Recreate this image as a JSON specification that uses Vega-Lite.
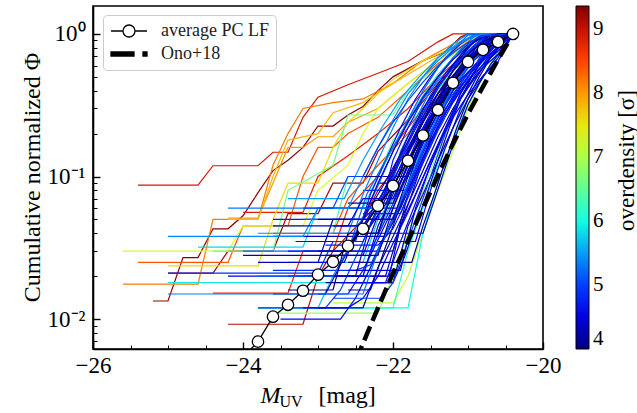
{
"$schema":"https://vega.github.io/schema/vega-lite/v6.json",
"width":450,"height":343,
"autosize":{"type":"none"},
"padding":{"left":93,"top":6,"right":94,"bottom":64},
"config":{"view":{"stroke":"black","strokeWidth":1.6},
 "axis":{"grid":false,"domainColor":"black","tickColor":"black","labelColor":"black","titleColor":"black","labelFont":"Liberation Serif","titleFont":"Liberation Serif","titleFontWeight":"normal","labelFlush":false,"labelOverlap":false},
 "legend":{"labelFont":"Liberation Serif","titleFont":"Liberation Serif","titleFontWeight":"normal","labelColor":"black","titleColor":"black"}},
"datasets":{
"od":[{"i":1,"d":8.9},{"i":2,"d":9.3},{"i":3,"d":9.2},{"i":4,"d":8.4},{"i":5,"d":8.2},{"i":6,"d":8.0},{"i":7,"d":8.7},{"i":8,"d":9.1},{"i":9,"d":8.5},{"i":10,"d":8.8},{"i":11,"d":7.3},{"i":12,"d":7.6},{"i":13,"d":7.1},{"i":14,"d":7.8},{"i":15,"d":6.6},{"i":16,"d":6.2},{"i":17,"d":5.8},{"i":18,"d":6.9},{"i":19,"d":6.0},{"i":20,"d":6.4},{"i":21,"d":5.7},{"i":22,"d":5.7},{"i":23,"d":5.9},
{"i":24,"d":4.2},{"i":25,"d":4.5},{"i":26,"d":4.1},{"i":27,"d":4.8},{"i":28,"d":4.3},{"i":29,"d":4.6},{"i":30,"d":4.0},{"i":31,"d":5.0},{"i":32,"d":4.4},{"i":33,"d":4.7},{"i":34,"d":4.2},{"i":35,"d":5.2},{"i":36,"d":4.9},{"i":37,"d":4.3},{"i":38,"d":4.6},{"i":39,"d":5.4},{"i":40,"d":4.1},{"i":41,"d":4.5},{"i":42,"d":4.8},{"i":43,"d":4.0},{"i":44,"d":5.1},{"i":45,"d":4.4},{"i":46,"d":4.2},{"i":47,"d":4.7},{"i":48,"d":5.3},{"i":49,"d":4.3},{"i":50,"d":4.9},{"i":51,"d":4.1},{"i":52,"d":4.6},{"i":53,"d":5.5},{"i":54,"d":4.0},{"i":55,"d":4.4},{"i":56,"d":4.8},{"i":57,"d":4.2},{"i":58,"d":5.0},{"i":59,"d":4.5},{"i":60,"d":4.3},{"i":61,"d":4.1},{"i":62,"d":4.7},{"i":63,"d":5.2},{"i":64,"d":5.3},{"i":65,"d":5.4},{"i":66,"d":4.9},{"i":67,"d":4.2},{"i":68,"d":4.5},{"i":69,"d":4.0},{"i":70,"d":4.8},{"i":71,"d":4.3},{"i":72,"d":4.6},{"i":73,"d":5.0},{"i":74,"d":4.1},{"i":75,"d":4.4},{"i":76,"d":4.7}],
"pc":[
{"i":1,"m":-25.4,"p":0.087},{"i":1,"m":-24.6,"p":0.087},{"i":1,"m":-24.4,"p":0.119},{"i":1,"m":-23.8,"p":0.119},{"i":1,"m":-23.6,"p":0.148},{"i":1,"m":-23.4,"p":0.148},{"i":1,"m":-23.2,"p":0.26},{"i":1,"m":-23.0,"p":0.36},{"i":1,"m":-22.6,"p":0.44},{"i":1,"m":-22.2,"p":0.53},{"i":1,"m":-21.8,"p":0.64},{"i":1,"m":-21.4,"p":0.88},{"i":1,"m":-21.2,"p":1},{"i":1,"m":-20.4,"p":1},
{"i":2,"m":-25.2,"p":0.0134},{"i":2,"m":-25.0,"p":0.0134},{"i":2,"m":-24.8,"p":0.027},{"i":2,"m":-24.6,"p":0.027},{"i":2,"m":-24.4,"p":0.043},{"i":2,"m":-24.2,"p":0.043},{"i":2,"m":-24.0,"p":0.053},{"i":2,"m":-23.8,"p":0.077},{"i":2,"m":-23.6,"p":0.11},{"i":2,"m":-23.4,"p":0.13},{"i":2,"m":-23.2,"p":0.16},{"i":2,"m":-23.0,"p":0.226},{"i":2,"m":-22.8,"p":0.226},{"i":2,"m":-22.6,"p":0.27},{"i":2,"m":-22.4,"p":0.31},{"i":2,"m":-22.2,"p":0.4},{"i":2,"m":-22.0,"p":0.5},{"i":2,"m":-21.6,"p":0.65},{"i":2,"m":-21.3,"p":0.75},{"i":2,"m":-21.1,"p":0.95},{"i":2,"m":-21.0,"p":1},{"i":2,"m":-20.4,"p":1},
{"i":3,"m":-25.0,"p":0.021},{"i":3,"m":-24.4,"p":0.021},{"i":3,"m":-24.2,"p":0.03},{"i":3,"m":-23.6,"p":0.03},{"i":3,"m":-23.4,"p":0.055},{"i":3,"m":-23.0,"p":0.055},{"i":3,"m":-22.8,"p":0.09},{"i":3,"m":-22.4,"p":0.09},{"i":3,"m":-22.2,"p":0.15},{"i":3,"m":-21.8,"p":0.25},{"i":3,"m":-21.4,"p":0.45},{"i":3,"m":-21.0,"p":0.75},{"i":3,"m":-20.6,"p":1},{"i":3,"m":-20.4,"p":1},
{"i":4,"m":-25.4,"p":0.025},{"i":4,"m":-24.2,"p":0.025},{"i":4,"m":-24.0,"p":0.045},{"i":4,"m":-23.4,"p":0.045},{"i":4,"m":-23.2,"p":0.1},{"i":4,"m":-23.0,"p":0.16},{"i":4,"m":-22.8,"p":0.16},{"i":4,"m":-22.6,"p":0.2},{"i":4,"m":-22.2,"p":0.26},{"i":4,"m":-21.8,"p":0.4},{"i":4,"m":-21.4,"p":0.62},{"i":4,"m":-21.0,"p":0.85},{"i":4,"m":-20.6,"p":1},{"i":4,"m":-20.4,"p":1},
{"i":5,"m":-25.6,"p":0.0176},{"i":5,"m":-24.6,"p":0.0176},{"i":5,"m":-24.4,"p":0.05},{"i":5,"m":-23.8,"p":0.05},{"i":5,"m":-23.6,"p":0.12},{"i":5,"m":-23.4,"p":0.2},{"i":5,"m":-23.2,"p":0.3},{"i":5,"m":-22.8,"p":0.33},{"i":5,"m":-22.4,"p":0.35},{"i":5,"m":-22.0,"p":0.45},{"i":5,"m":-21.6,"p":0.65},{"i":5,"m":-21.2,"p":0.85},{"i":5,"m":-20.8,"p":1},{"i":5,"m":-20.4,"p":1},
{"i":6,"m":-24.2,"p":0.051},{"i":6,"m":-23.8,"p":0.051},{"i":6,"m":-23.6,"p":0.09},{"i":6,"m":-23.4,"p":0.16},{"i":6,"m":-23.2,"p":0.16},{"i":6,"m":-23.0,"p":0.19},{"i":6,"m":-22.8,"p":0.19},{"i":6,"m":-22.6,"p":0.24},{"i":6,"m":-22.2,"p":0.3},{"i":6,"m":-21.8,"p":0.45},{"i":6,"m":-21.4,"p":0.65},{"i":6,"m":-21.0,"p":0.88},{"i":6,"m":-20.6,"p":1},{"i":6,"m":-20.4,"p":1},
{"i":7,"m":-24.4,"p":0.0152},{"i":7,"m":-23.4,"p":0.0152},{"i":7,"m":-23.2,"p":0.03},{"i":7,"m":-22.8,"p":0.03},{"i":7,"m":-22.6,"p":0.06},{"i":7,"m":-22.2,"p":0.1},{"i":7,"m":-22.0,"p":0.16},{"i":7,"m":-21.6,"p":0.3},{"i":7,"m":-21.2,"p":0.55},{"i":7,"m":-20.8,"p":0.85},{"i":7,"m":-20.6,"p":1},{"i":7,"m":-20.4,"p":1},
{"i":8,"m":-24.2,"p":0.0092},{"i":8,"m":-23.2,"p":0.0092},{"i":8,"m":-23.0,"p":0.02},{"i":8,"m":-22.8,"p":0.03},{"i":8,"m":-22.4,"p":0.05},{"i":8,"m":-22.2,"p":0.08},{"i":8,"m":-21.8,"p":0.15},{"i":8,"m":-21.4,"p":0.3},{"i":8,"m":-21.0,"p":0.6},{"i":8,"m":-20.6,"p":0.9},{"i":8,"m":-20.4,"p":1},
{"i":9,"m":-23.6,"p":0.04},{"i":9,"m":-22.8,"p":0.04},{"i":9,"m":-22.6,"p":0.07},{"i":9,"m":-22.2,"p":0.12},{"i":9,"m":-21.8,"p":0.2},{"i":9,"m":-21.4,"p":0.38},{"i":9,"m":-21.0,"p":0.65},{"i":9,"m":-20.6,"p":0.92},{"i":9,"m":-20.4,"p":1},
{"i":10,"m":-24.0,"p":0.056},{"i":10,"m":-23.2,"p":0.056},{"i":10,"m":-23.0,"p":0.1},{"i":10,"m":-22.6,"p":0.14},{"i":10,"m":-22.2,"p":0.2},{"i":10,"m":-21.8,"p":0.3},{"i":10,"m":-21.4,"p":0.5},{"i":10,"m":-21.0,"p":0.75},{"i":10,"m":-20.6,"p":0.95},{"i":10,"m":-20.4,"p":1},
{"i":11,"m":-25.6,"p":0.03},{"i":11,"m":-24.2,"p":0.03},{"i":11,"m":-24.0,"p":0.045},{"i":11,"m":-23.2,"p":0.045},{"i":11,"m":-23.0,"p":0.08},{"i":11,"m":-22.6,"p":0.12},{"i":11,"m":-22.4,"p":0.2},{"i":11,"m":-22.2,"p":0.3},{"i":11,"m":-21.8,"p":0.45},{"i":11,"m":-21.4,"p":0.65},{"i":11,"m":-21.0,"p":0.85},{"i":11,"m":-20.6,"p":1},{"i":11,"m":-20.4,"p":1},
{"i":12,"m":-25.0,"p":0.0236},{"i":12,"m":-23.8,"p":0.0236},{"i":12,"m":-23.6,"p":0.05},{"i":12,"m":-23.4,"p":0.09},{"i":12,"m":-23.0,"p":0.09},{"i":12,"m":-22.8,"p":0.16},{"i":12,"m":-22.6,"p":0.24},{"i":12,"m":-22.4,"p":0.3},{"i":12,"m":-22.0,"p":0.48},{"i":12,"m":-21.6,"p":0.65},{"i":12,"m":-21.4,"p":0.72},{"i":12,"m":-21.0,"p":0.9},{"i":12,"m":-20.8,"p":1},{"i":12,"m":-20.4,"p":1},
{"i":13,"m":-22.8,"p":0.013},{"i":13,"m":-22.0,"p":0.013},{"i":13,"m":-21.8,"p":0.02},{"i":13,"m":-21.6,"p":0.04},{"i":13,"m":-21.4,"p":0.08},{"i":13,"m":-21.2,"p":0.15},{"i":13,"m":-21.0,"p":0.3},{"i":13,"m":-20.8,"p":0.5},{"i":13,"m":-20.6,"p":0.75},{"i":13,"m":-20.4,"p":1},
{"i":14,"m":-24.2,"p":0.05},{"i":14,"m":-23.8,"p":0.05},{"i":14,"m":-23.6,"p":0.1},{"i":14,"m":-23.4,"p":0.18},{"i":14,"m":-23.0,"p":0.2},{"i":14,"m":-22.8,"p":0.28},{"i":14,"m":-22.4,"p":0.33},{"i":14,"m":-22.0,"p":0.45},{"i":14,"m":-21.6,"p":0.6},{"i":14,"m":-21.2,"p":0.8},{"i":14,"m":-20.8,"p":1},{"i":14,"m":-20.4,"p":1},
{"i":15,"m":-24.4,"p":0.03},{"i":15,"m":-23.6,"p":0.03},{"i":15,"m":-23.4,"p":0.08},{"i":15,"m":-22.8,"p":0.12},{"i":15,"m":-22.6,"p":0.27},{"i":15,"m":-22.0,"p":0.27},{"i":15,"m":-21.8,"p":0.4},{"i":15,"m":-21.4,"p":0.6},{"i":15,"m":-21.0,"p":0.85},{"i":15,"m":-20.8,"p":1},{"i":15,"m":-20.4,"p":1},
{"i":16,"m":-23.8,"p":0.012},{"i":16,"m":-22.0,"p":0.012},{"i":16,"m":-21.8,"p":0.03},{"i":16,"m":-21.6,"p":0.06},{"i":16,"m":-21.4,"p":0.12},{"i":16,"m":-21.2,"p":0.22},{"i":16,"m":-21.0,"p":0.38},{"i":16,"m":-20.8,"p":0.6},{"i":16,"m":-20.6,"p":0.82},{"i":16,"m":-20.4,"p":1},
{"i":17,"m":-24.6,"p":0.032},{"i":17,"m":-23.2,"p":0.032},{"i":17,"m":-23.0,"p":0.06},{"i":17,"m":-22.4,"p":0.06},{"i":17,"m":-22.2,"p":0.1},{"i":17,"m":-22.0,"p":0.16},{"i":17,"m":-21.8,"p":0.25},{"i":17,"m":-21.6,"p":0.37},{"i":17,"m":-21.4,"p":0.52},{"i":17,"m":-21.2,"p":0.68},{"i":17,"m":-21.0,"p":0.84},{"i":17,"m":-20.8,"p":1},{"i":17,"m":-20.4,"p":1},
{"i":18,"m":-23.6,"p":0.011},{"i":18,"m":-22.2,"p":0.011},{"i":18,"m":-22.0,"p":0.02},{"i":18,"m":-21.8,"p":0.04},{"i":18,"m":-21.6,"p":0.08},{"i":18,"m":-21.4,"p":0.15},{"i":18,"m":-21.2,"p":0.27},{"i":18,"m":-21.0,"p":0.43},{"i":18,"m":-20.8,"p":0.62},{"i":18,"m":-20.6,"p":0.82},{"i":18,"m":-20.4,"p":1},
{"i":19,"m":-22.8,"p":0.012},{"i":19,"m":-21.8,"p":0.012},{"i":19,"m":-21.6,"p":0.04},{"i":19,"m":-21.4,"p":0.09},{"i":19,"m":-21.2,"p":0.18},{"i":19,"m":-21.0,"p":0.32},{"i":19,"m":-20.8,"p":0.5},{"i":19,"m":-20.6,"p":0.75},{"i":19,"m":-20.4,"p":1},
{"i":20,"m":-23.2,"p":0.04},{"i":20,"m":-22.8,"p":0.04},{"i":20,"m":-22.6,"p":0.1},{"i":20,"m":-22.2,"p":0.1},{"i":20,"m":-22.0,"p":0.18},{"i":20,"m":-21.6,"p":0.3},{"i":20,"m":-21.2,"p":0.55},{"i":20,"m":-20.8,"p":0.85},{"i":20,"m":-20.6,"p":1},{"i":20,"m":-20.4,"p":1},
{"i":21,"m":-23.4,"p":0.025},{"i":21,"m":-22.4,"p":0.025},{"i":21,"m":-22.2,"p":0.05},{"i":21,"m":-21.8,"p":0.1},{"i":21,"m":-21.6,"p":0.16},{"i":21,"m":-21.4,"p":0.26},{"i":21,"m":-21.2,"p":0.4},{"i":21,"m":-21.0,"p":0.58},{"i":21,"m":-20.8,"p":0.78},{"i":21,"m":-20.6,"p":0.93},{"i":21,"m":-20.4,"p":1},
{"i":22,"m":-23.8,"p":0.012},{"i":22,"m":-23.0,"p":0.012},{"i":22,"m":-22.8,"p":0.02},{"i":22,"m":-22.4,"p":0.02},{"i":22,"m":-22.2,"p":0.04},{"i":22,"m":-22.0,"p":0.07},{"i":22,"m":-21.8,"p":0.12},{"i":22,"m":-21.6,"p":0.2},{"i":22,"m":-21.4,"p":0.32},{"i":22,"m":-21.2,"p":0.47},{"i":22,"m":-21.0,"p":0.65},{"i":22,"m":-20.8,"p":0.82},{"i":22,"m":-20.6,"p":0.95},{"i":22,"m":-20.4,"p":1},
{"i":23,"m":-25.0,"p":0.018},{"i":23,"m":-22.4,"p":0.018},{"i":23,"m":-22.2,"p":0.03},{"i":23,"m":-22.0,"p":0.05},{"i":23,"m":-21.8,"p":0.08},{"i":23,"m":-21.6,"p":0.13},{"i":23,"m":-21.4,"p":0.22},{"i":23,"m":-21.2,"p":0.35},{"i":23,"m":-21.0,"p":0.5},{"i":23,"m":-20.8,"p":0.7},{"i":23,"m":-20.6,"p":0.88},{"i":23,"m":-20.4,"p":1},
{"i":24,"m":-23.2,"p":0.03},{"i":24,"m":-22.0,"p":0.03},{"i":24,"m":-21.8,"p":0.075},{"i":24,"m":-21.6,"p":0.13},{"i":24,"m":-21.4,"p":0.22},{"i":24,"m":-21.2,"p":0.35},{"i":24,"m":-21.0,"p":0.5},{"i":24,"m":-20.8,"p":0.68},{"i":24,"m":-20.6,"p":0.85},{"i":24,"m":-20.4,"p":1},
{"i":25,"m":-23.4,"p":0.02},{"i":25,"m":-22.4,"p":0.02},{"i":25,"m":-22.2,"p":0.045},{"i":25,"m":-22.0,"p":0.075},{"i":25,"m":-21.8,"p":0.13},{"i":25,"m":-21.6,"p":0.22},{"i":25,"m":-21.4,"p":0.35},{"i":25,"m":-21.2,"p":0.5},{"i":25,"m":-21.0,"p":0.68},{"i":25,"m":-20.8,"p":0.85},{"i":25,"m":-20.6,"p":1},{"i":25,"m":-20.4,"p":1},
{"i":26,"m":-22.9,"p":0.018},{"i":26,"m":-22.0,"p":0.018},{"i":26,"m":-21.85,"p":0.027},{"i":26,"m":-21.7,"p":0.045},{"i":26,"m":-21.55,"p":0.075},{"i":26,"m":-21.4,"p":0.13},{"i":26,"m":-21.25,"p":0.22},{"i":26,"m":-21.1,"p":0.35},{"i":26,"m":-20.95,"p":0.5},{"i":26,"m":-20.8,"p":0.68},{"i":26,"m":-20.65,"p":0.85},{"i":26,"m":-20.5,"p":1},{"i":26,"m":-20.4,"p":1},
{"i":27,"m":-23.6,"p":0.05},{"i":27,"m":-22.2,"p":0.05},{"i":27,"m":-22.0,"p":0.13},{"i":27,"m":-21.8,"p":0.22},{"i":27,"m":-21.6,"p":0.35},{"i":27,"m":-21.4,"p":0.5},{"i":27,"m":-21.2,"p":0.68},{"i":27,"m":-21.0,"p":0.85},{"i":27,"m":-20.8,"p":1},{"i":27,"m":-20.4,"p":1},
{"i":28,"m":-23.6,"p":0.015},{"i":28,"m":-22.9,"p":0.015},{"i":28,"m":-22.65,"p":0.027},{"i":28,"m":-22.4,"p":0.045},{"i":28,"m":-22.15,"p":0.075},{"i":28,"m":-21.9,"p":0.13},{"i":28,"m":-21.65,"p":0.22},{"i":28,"m":-21.4,"p":0.35},{"i":28,"m":-21.15,"p":0.5},{"i":28,"m":-20.9,"p":0.68},{"i":28,"m":-20.65,"p":0.85},{"i":28,"m":-20.4,"p":1},
{"i":29,"m":-22.8,"p":0.04},{"i":29,"m":-22.2,"p":0.04},{"i":29,"m":-22.0,"p":0.083},{"i":29,"m":-21.8,"p":0.143},{"i":29,"m":-21.6,"p":0.24},{"i":29,"m":-21.4,"p":0.385},{"i":29,"m":-21.2,"p":0.55},{"i":29,"m":-21.0,"p":0.75},{"i":29,"m":-20.8,"p":0.94},{"i":29,"m":-20.6,"p":1},{"i":29,"m":-20.4,"p":1},
{"i":30,"m":-22.6,"p":0.025},{"i":30,"m":-21.75,"p":0.025},{"i":30,"m":-21.6,"p":0.045},{"i":30,"m":-21.45,"p":0.075},{"i":30,"m":-21.3,"p":0.13},{"i":30,"m":-21.15,"p":0.22},{"i":30,"m":-21.0,"p":0.35},{"i":30,"m":-20.85,"p":0.5},{"i":30,"m":-20.7,"p":0.68},{"i":30,"m":-20.55,"p":0.85},{"i":30,"m":-20.4,"p":1},
{"i":31,"m":-23.8,"p":0.012},{"i":31,"m":-22.9,"p":0.012},{"i":31,"m":-22.7,"p":0.016},{"i":31,"m":-22.5,"p":0.027},{"i":31,"m":-22.3,"p":0.045},{"i":31,"m":-22.1,"p":0.075},{"i":31,"m":-21.9,"p":0.13},{"i":31,"m":-21.7,"p":0.22},{"i":31,"m":-21.5,"p":0.35},{"i":31,"m":-21.3,"p":0.5},{"i":31,"m":-21.1,"p":0.68},{"i":31,"m":-20.9,"p":0.85},{"i":31,"m":-20.7,"p":1},{"i":31,"m":-20.4,"p":1},
{"i":32,"m":-23.0,"p":0.06},{"i":32,"m":-21.9,"p":0.06},{"i":32,"m":-21.7,"p":0.13},{"i":32,"m":-21.5,"p":0.22},{"i":32,"m":-21.3,"p":0.35},{"i":32,"m":-21.1,"p":0.5},{"i":32,"m":-20.9,"p":0.68},{"i":32,"m":-20.7,"p":0.85},{"i":32,"m":-20.5,"p":1},{"i":32,"m":-20.4,"p":1},
{"i":33,"m":-23.3,"p":0.035},{"i":33,"m":-22.5,"p":0.035},{"i":33,"m":-22.3,"p":0.075},{"i":33,"m":-22.1,"p":0.13},{"i":33,"m":-21.9,"p":0.22},{"i":33,"m":-21.7,"p":0.35},{"i":33,"m":-21.5,"p":0.5},{"i":33,"m":-21.3,"p":0.68},{"i":33,"m":-21.1,"p":0.85},{"i":33,"m":-20.9,"p":1},{"i":33,"m":-20.4,"p":1},
{"i":34,"m":-23.0,"p":0.012},{"i":34,"m":-22.4,"p":0.012},{"i":34,"m":-22.2,"p":0.023},{"i":34,"m":-22.0,"p":0.038},{"i":34,"m":-21.8,"p":0.064},{"i":34,"m":-21.6,"p":0.11},{"i":34,"m":-21.4,"p":0.19},{"i":34,"m":-21.2,"p":0.3},{"i":34,"m":-21.0,"p":0.43},{"i":34,"m":-20.8,"p":0.58},{"i":34,"m":-20.6,"p":0.72},{"i":34,"m":-20.4,"p":1},
{"i":35,"m":-24.0,"p":0.03},{"i":35,"m":-22.6,"p":0.03},{"i":35,"m":-22.35,"p":0.075},{"i":35,"m":-22.1,"p":0.13},{"i":35,"m":-21.85,"p":0.22},{"i":35,"m":-21.6,"p":0.35},{"i":35,"m":-21.35,"p":0.5},{"i":35,"m":-21.1,"p":0.68},{"i":35,"m":-20.85,"p":0.85},{"i":35,"m":-20.6,"p":1},{"i":35,"m":-20.4,"p":1},
{"i":36,"m":-22.4,"p":0.08},{"i":36,"m":-21.8,"p":0.08},{"i":36,"m":-21.6,"p":0.137},{"i":36,"m":-21.4,"p":0.23},{"i":36,"m":-21.2,"p":0.37},{"i":36,"m":-21.0,"p":0.53},{"i":36,"m":-20.8,"p":0.71},{"i":36,"m":-20.6,"p":0.89},{"i":36,"m":-20.4,"p":1},
{"i":37,"m":-23.2,"p":0.02},{"i":37,"m":-22.05,"p":0.02},{"i":37,"m":-21.9,"p":0.045},{"i":37,"m":-21.75,"p":0.075},{"i":37,"m":-21.6,"p":0.13},{"i":37,"m":-21.45,"p":0.22},{"i":37,"m":-21.3,"p":0.35},{"i":37,"m":-21.15,"p":0.5},{"i":37,"m":-21.0,"p":0.68},{"i":37,"m":-20.85,"p":0.85},{"i":37,"m":-20.7,"p":1},{"i":37,"m":-20.4,"p":1},
{"i":38,"m":-23.5,"p":0.01},{"i":38,"m":-22.7,"p":0.01},{"i":38,"m":-22.5,"p":0.014},{"i":38,"m":-22.3,"p":0.023},{"i":38,"m":-22.1,"p":0.038},{"i":38,"m":-21.9,"p":0.064},{"i":38,"m":-21.7,"p":0.11},{"i":38,"m":-21.5,"p":0.19},{"i":38,"m":-21.3,"p":0.3},{"i":38,"m":-21.1,"p":0.43},{"i":38,"m":-20.9,"p":0.58},{"i":38,"m":-20.7,"p":0.72},{"i":38,"m":-20.5,"p":0.9},{"i":38,"m":-20.4,"p":1},
{"i":39,"m":-23.8,"p":0.04},{"i":39,"m":-22.6,"p":0.04},{"i":39,"m":-22.4,"p":0.075},{"i":39,"m":-22.2,"p":0.13},{"i":39,"m":-22.0,"p":0.22},{"i":39,"m":-21.8,"p":0.35},{"i":39,"m":-21.6,"p":0.5},{"i":39,"m":-21.4,"p":0.68},{"i":39,"m":-21.2,"p":0.85},{"i":39,"m":-21.0,"p":1},{"i":39,"m":-20.4,"p":1},
{"i":40,"m":-22.6,"p":0.1},{"i":40,"m":-21.8,"p":0.1},{"i":40,"m":-21.6,"p":0.2},{"i":40,"m":-21.4,"p":0.32},{"i":40,"m":-21.2,"p":0.45},{"i":40,"m":-21.0,"p":0.61},{"i":40,"m":-20.8,"p":0.77},{"i":40,"m":-20.6,"p":0.95},{"i":40,"m":-20.4,"p":1},
{"i":41,"m":-23.0,"p":0.025},{"i":41,"m":-22.65,"p":0.025},{"i":41,"m":-22.4,"p":0.05},{"i":41,"m":-22.15,"p":0.083},{"i":41,"m":-21.9,"p":0.143},{"i":41,"m":-21.65,"p":0.24},{"i":41,"m":-21.4,"p":0.385},{"i":41,"m":-21.15,"p":0.55},{"i":41,"m":-20.9,"p":0.75},{"i":41,"m":-20.65,"p":0.94},{"i":41,"m":-20.4,"p":1},
{"i":42,"m":-23.4,"p":0.03},{"i":42,"m":-22.3,"p":0.03},{"i":42,"m":-22.1,"p":0.05},{"i":42,"m":-21.9,"p":0.083},{"i":42,"m":-21.7,"p":0.143},{"i":42,"m":-21.5,"p":0.24},{"i":42,"m":-21.3,"p":0.385},{"i":42,"m":-21.1,"p":0.55},{"i":42,"m":-20.9,"p":0.75},{"i":42,"m":-20.7,"p":0.94},{"i":42,"m":-20.5,"p":1},{"i":42,"m":-20.4,"p":1},
{"i":43,"m":-22.6,"p":0.016},{"i":43,"m":-22.3,"p":0.016},{"i":43,"m":-22.15,"p":0.027},{"i":43,"m":-22.0,"p":0.045},{"i":43,"m":-21.85,"p":0.075},{"i":43,"m":-21.7,"p":0.13},{"i":43,"m":-21.55,"p":0.22},{"i":43,"m":-21.4,"p":0.35},{"i":43,"m":-21.25,"p":0.5},{"i":43,"m":-21.1,"p":0.68},{"i":43,"m":-20.95,"p":0.85},{"i":43,"m":-20.8,"p":1},{"i":43,"m":-20.4,"p":1},
{"i":44,"m":-23.2,"p":0.05},{"i":44,"m":-22.0,"p":0.05},{"i":44,"m":-21.8,"p":0.086},{"i":44,"m":-21.6,"p":0.15},{"i":44,"m":-21.4,"p":0.25},{"i":44,"m":-21.2,"p":0.4},{"i":44,"m":-21.0,"p":0.58},{"i":44,"m":-20.8,"p":0.78},{"i":44,"m":-20.6,"p":0.98},{"i":44,"m":-20.4,"p":1},
{"i":45,"m":-22.8,"p":0.02},{"i":45,"m":-22.1,"p":0.02},{"i":45,"m":-21.9,"p":0.045},{"i":45,"m":-21.7,"p":0.075},{"i":45,"m":-21.5,"p":0.13},{"i":45,"m":-21.3,"p":0.22},{"i":45,"m":-21.1,"p":0.35},{"i":45,"m":-20.9,"p":0.5},{"i":45,"m":-20.7,"p":0.68},{"i":45,"m":-20.5,"p":0.85},{"i":45,"m":-20.4,"p":1},
{"i":46,"m":-22.5,"p":0.018},{"i":46,"m":-22.0,"p":0.018},{"i":46,"m":-21.8,"p":0.045},{"i":46,"m":-21.6,"p":0.075},{"i":46,"m":-21.4,"p":0.13},{"i":46,"m":-21.2,"p":0.22},{"i":46,"m":-21.0,"p":0.35},{"i":46,"m":-20.8,"p":0.5},{"i":46,"m":-20.6,"p":0.68},{"i":46,"m":-20.4,"p":1},
{"i":47,"m":-23.0,"p":0.015},{"i":47,"m":-22.6,"p":0.015},{"i":47,"m":-22.4,"p":0.022},{"i":47,"m":-22.2,"p":0.036},{"i":47,"m":-22.0,"p":0.06},{"i":47,"m":-21.8,"p":0.104},{"i":47,"m":-21.6,"p":0.176},{"i":47,"m":-21.4,"p":0.28},{"i":47,"m":-21.2,"p":0.4},{"i":47,"m":-21.0,"p":0.54},{"i":47,"m":-20.8,"p":0.68},{"i":47,"m":-20.6,"p":0.85},{"i":47,"m":-20.4,"p":1},
{"i":48,"m":-24.2,"p":0.06},{"i":48,"m":-22.1,"p":0.06},{"i":48,"m":-21.9,"p":0.15},{"i":48,"m":-21.7,"p":0.25},{"i":48,"m":-21.5,"p":0.4},{"i":48,"m":-21.3,"p":0.58},{"i":48,"m":-21.1,"p":0.78},{"i":48,"m":-20.9,"p":0.98},{"i":48,"m":-20.7,"p":1},{"i":48,"m":-20.4,"p":1},
{"i":49,"m":-22.3,"p":0.04},{"i":49,"m":-21.6,"p":0.04},{"i":49,"m":-21.45,"p":0.068},{"i":49,"m":-21.3,"p":0.117},{"i":49,"m":-21.15,"p":0.2},{"i":49,"m":-21.0,"p":0.32},{"i":49,"m":-20.85,"p":0.45},{"i":49,"m":-20.7,"p":0.61},{"i":49,"m":-20.55,"p":0.77},{"i":49,"m":-20.4,"p":1},
{"i":50,"m":-23.6,"p":0.022},{"i":50,"m":-22.5,"p":0.022},{"i":50,"m":-22.3,"p":0.024},{"i":50,"m":-22.1,"p":0.04},{"i":50,"m":-21.9,"p":0.068},{"i":50,"m":-21.7,"p":0.117},{"i":50,"m":-21.5,"p":0.2},{"i":50,"m":-21.3,"p":0.32},{"i":50,"m":-21.1,"p":0.45},{"i":50,"m":-20.9,"p":0.61},{"i":50,"m":-20.7,"p":0.77},{"i":50,"m":-20.5,"p":0.95},{"i":50,"m":-20.4,"p":1},
{"i":51,"m":-22.7,"p":0.045},{"i":51,"m":-22.3,"p":0.045},{"i":51,"m":-22.1,"p":0.064},{"i":51,"m":-21.9,"p":0.11},{"i":51,"m":-21.7,"p":0.19},{"i":51,"m":-21.5,"p":0.3},{"i":51,"m":-21.3,"p":0.43},{"i":51,"m":-21.1,"p":0.58},{"i":51,"m":-20.9,"p":0.72},{"i":51,"m":-20.7,"p":0.9},{"i":51,"m":-20.4,"p":1},
{"i":52,"m":-23.2,"p":0.012},{"i":52,"m":-22.6,"p":0.012},{"i":52,"m":-22.4,"p":0.014},{"i":52,"m":-22.2,"p":0.02},{"i":52,"m":-22.0,"p":0.034},{"i":52,"m":-21.8,"p":0.056},{"i":52,"m":-21.6,"p":0.098},{"i":52,"m":-21.4,"p":0.165},{"i":52,"m":-21.2,"p":0.26},{"i":52,"m":-21.0,"p":0.375},{"i":52,"m":-20.8,"p":0.51},{"i":52,"m":-20.6,"p":0.64},{"i":52,"m":-20.4,"p":1},
{"i":53,"m":-23.4,"p":0.07},{"i":53,"m":-22.65,"p":0.07},{"i":53,"m":-22.4,"p":0.13},{"i":53,"m":-22.15,"p":0.22},{"i":53,"m":-21.9,"p":0.35},{"i":53,"m":-21.65,"p":0.5},{"i":53,"m":-21.4,"p":0.68},{"i":53,"m":-21.15,"p":0.85},{"i":53,"m":-20.9,"p":1},{"i":53,"m":-20.4,"p":1},
{"i":54,"m":-22.2,"p":0.09},{"i":54,"m":-21.9,"p":0.09},{"i":54,"m":-21.7,"p":0.156},{"i":54,"m":-21.5,"p":0.26},{"i":54,"m":-21.3,"p":0.42},{"i":54,"m":-21.1,"p":0.6},{"i":54,"m":-20.9,"p":0.82},{"i":54,"m":-20.7,"p":0.98},{"i":54,"m":-20.5,"p":1},{"i":54,"m":-20.4,"p":1},
{"i":55,"m":-24.0,"p":0.028},{"i":55,"m":-22.4,"p":0.028},{"i":55,"m":-22.2,"p":0.054},{"i":55,"m":-22.0,"p":0.09},{"i":55,"m":-21.8,"p":0.156},{"i":55,"m":-21.6,"p":0.26},{"i":55,"m":-21.4,"p":0.42},{"i":55,"m":-21.2,"p":0.6},{"i":55,"m":-21.0,"p":0.82},{"i":55,"m":-20.8,"p":0.98},{"i":55,"m":-20.6,"p":1},{"i":55,"m":-20.4,"p":1},
{"i":56,"m":-22.9,"p":0.033},{"i":56,"m":-22.2,"p":0.033},{"i":56,"m":-22.0,"p":0.043},{"i":56,"m":-21.8,"p":0.071},{"i":56,"m":-21.6,"p":0.124},{"i":56,"m":-21.4,"p":0.21},{"i":56,"m":-21.2,"p":0.33},{"i":56,"m":-21.0,"p":0.475},{"i":56,"m":-20.8,"p":0.65},{"i":56,"m":-20.6,"p":0.81},{"i":56,"m":-20.4,"p":1},
{"i":57,"m":-23.0,"p":0.05},{"i":57,"m":-22.4,"p":0.05},{"i":57,"m":-22.2,"p":0.064},{"i":57,"m":-22.0,"p":0.11},{"i":57,"m":-21.8,"p":0.19},{"i":57,"m":-21.6,"p":0.3},{"i":57,"m":-21.4,"p":0.43},{"i":57,"m":-21.2,"p":0.58},{"i":57,"m":-21.0,"p":0.72},{"i":57,"m":-20.8,"p":0.9},{"i":57,"m":-20.4,"p":1},
{"i":58,"m":-22.8,"p":0.014},{"i":58,"m":-22.15,"p":0.014},{"i":58,"m":-22.0,"p":0.018},{"i":58,"m":-21.85,"p":0.03},{"i":58,"m":-21.7,"p":0.05},{"i":58,"m":-21.55,"p":0.083},{"i":58,"m":-21.4,"p":0.143},{"i":58,"m":-21.25,"p":0.24},{"i":58,"m":-21.1,"p":0.385},{"i":58,"m":-20.95,"p":0.55},{"i":58,"m":-20.8,"p":0.75},{"i":58,"m":-20.65,"p":0.94},{"i":58,"m":-20.5,"p":1},{"i":58,"m":-20.4,"p":1},
{"i":59,"m":-24.2,"p":0.02},{"i":59,"m":-22.5,"p":0.02},{"i":59,"m":-22.3,"p":0.047},{"i":59,"m":-22.1,"p":0.079},{"i":59,"m":-21.9,"p":0.137},{"i":59,"m":-21.7,"p":0.23},{"i":59,"m":-21.5,"p":0.37},{"i":59,"m":-21.3,"p":0.53},{"i":59,"m":-21.1,"p":0.71},{"i":59,"m":-20.9,"p":0.89},{"i":59,"m":-20.7,"p":1},{"i":59,"m":-20.4,"p":1},
{"i":60,"m":-23.6,"p":0.038},{"i":60,"m":-22.1,"p":0.038},{"i":60,"m":-21.9,"p":0.06},{"i":60,"m":-21.7,"p":0.104},{"i":60,"m":-21.5,"p":0.176},{"i":60,"m":-21.3,"p":0.28},{"i":60,"m":-21.1,"p":0.4},{"i":60,"m":-20.9,"p":0.54},{"i":60,"m":-20.7,"p":0.68},{"i":60,"m":-20.5,"p":0.85},{"i":60,"m":-20.4,"p":1},
{"i":61,"m":-22.6,"p":0.065},{"i":61,"m":-22.0,"p":0.065},{"i":61,"m":-21.8,"p":0.124},{"i":61,"m":-21.6,"p":0.21},{"i":61,"m":-21.4,"p":0.33},{"i":61,"m":-21.2,"p":0.475},{"i":61,"m":-21.0,"p":0.65},{"i":61,"m":-20.8,"p":0.81},{"i":61,"m":-20.6,"p":1},{"i":61,"m":-20.4,"p":1},
{"i":62,"m":-22.8,"p":0.045},{"i":62,"m":-22.4,"p":0.045},{"i":62,"m":-22.15,"p":0.068},{"i":62,"m":-21.9,"p":0.117},{"i":62,"m":-21.65,"p":0.2},{"i":62,"m":-21.4,"p":0.32},{"i":62,"m":-21.15,"p":0.45},{"i":62,"m":-20.9,"p":0.61},{"i":62,"m":-20.65,"p":0.77},{"i":62,"m":-20.4,"p":1},
{"i":63,"m":-23.8,"p":0.02},{"i":63,"m":-22.8,"p":0.02},{"i":63,"m":-22.6,"p":0.031},{"i":63,"m":-22.4,"p":0.052},{"i":63,"m":-22.2,"p":0.086},{"i":63,"m":-22.0,"p":0.15},{"i":63,"m":-21.8,"p":0.25},{"i":63,"m":-21.6,"p":0.4},{"i":63,"m":-21.4,"p":0.58},{"i":63,"m":-21.2,"p":0.78},{"i":63,"m":-21.0,"p":0.98},{"i":63,"m":-20.8,"p":1},{"i":63,"m":-20.4,"p":1},
{"i":64,"m":-25.0,"p":0.015},{"i":64,"m":-22.4,"p":0.015},{"i":64,"m":-22.2,"p":0.03},{"i":64,"m":-22.0,"p":0.05},{"i":64,"m":-21.8,"p":0.09},{"i":64,"m":-21.6,"p":0.16},{"i":64,"m":-21.4,"p":0.27},{"i":64,"m":-21.2,"p":0.42},{"i":64,"m":-21.0,"p":0.6},{"i":64,"m":-20.8,"p":0.8},{"i":64,"m":-20.6,"p":0.95},{"i":64,"m":-20.4,"p":1},
{"i":65,"m":-25.0,"p":0.038},{"i":65,"m":-23.2,"p":0.038},{"i":65,"m":-23.0,"p":0.06},{"i":65,"m":-22.6,"p":0.06},{"i":65,"m":-22.4,"p":0.1},{"i":65,"m":-22.2,"p":0.16},{"i":65,"m":-22.0,"p":0.25},{"i":65,"m":-21.8,"p":0.38},{"i":65,"m":-21.6,"p":0.5},{"i":65,"m":-21.4,"p":0.65},{"i":65,"m":-21.2,"p":0.8},{"i":65,"m":-21.0,"p":0.92},{"i":65,"m":-20.8,"p":1},{"i":65,"m":-20.4,"p":1},
{"i":66,"m":-25.0,"p":0.021},{"i":66,"m":-23.0,"p":0.021},{"i":66,"m":-22.8,"p":0.035},{"i":66,"m":-22.4,"p":0.035},{"i":66,"m":-22.2,"p":0.06},{"i":66,"m":-22.0,"p":0.1},{"i":66,"m":-21.8,"p":0.17},{"i":66,"m":-21.6,"p":0.28},{"i":66,"m":-21.4,"p":0.42},{"i":66,"m":-21.2,"p":0.58},{"i":66,"m":-21.0,"p":0.75},{"i":66,"m":-20.8,"p":0.9},{"i":66,"m":-20.6,"p":1},{"i":66,"m":-20.4,"p":1},
{"i":67,"m":-23.0,"p":0.03},{"i":67,"m":-22.6,"p":0.03},{"i":67,"m":-22.4,"p":0.05},{"i":67,"m":-22.0,"p":0.05},{"i":67,"m":-21.8,"p":0.1},{"i":67,"m":-21.6,"p":0.18},{"i":67,"m":-21.4,"p":0.3},{"i":67,"m":-21.2,"p":0.45},{"i":67,"m":-21.0,"p":0.62},{"i":67,"m":-20.8,"p":0.8},{"i":67,"m":-20.6,"p":0.93},{"i":67,"m":-20.4,"p":1},
{"i":68,"m":-22.6,"p":0.022},{"i":68,"m":-21.9,"p":0.022},{"i":68,"m":-21.7,"p":0.06},{"i":68,"m":-21.5,"p":0.12},{"i":68,"m":-21.3,"p":0.22},{"i":68,"m":-21.1,"p":0.38},{"i":68,"m":-20.9,"p":0.56},{"i":68,"m":-20.7,"p":0.78},{"i":68,"m":-20.5,"p":0.95},{"i":68,"m":-20.4,"p":1},
{"i":69,"m":-23.4,"p":0.016},{"i":69,"m":-22.8,"p":0.016},{"i":69,"m":-22.6,"p":0.04},{"i":69,"m":-22.2,"p":0.04},{"i":69,"m":-22.0,"p":0.08},{"i":69,"m":-21.8,"p":0.15},{"i":69,"m":-21.6,"p":0.25},{"i":69,"m":-21.4,"p":0.38},{"i":69,"m":-21.2,"p":0.55},{"i":69,"m":-21.0,"p":0.72},{"i":69,"m":-20.8,"p":0.88},{"i":69,"m":-20.6,"p":1},{"i":69,"m":-20.4,"p":1},
{"i":70,"m":-22.4,"p":0.055},{"i":70,"m":-21.9,"p":0.055},{"i":70,"m":-21.7,"p":0.1},{"i":70,"m":-21.5,"p":0.17},{"i":70,"m":-21.3,"p":0.28},{"i":70,"m":-21.1,"p":0.42},{"i":70,"m":-20.9,"p":0.6},{"i":70,"m":-20.7,"p":0.8},{"i":70,"m":-20.5,"p":0.95},{"i":70,"m":-20.4,"p":1},
{"i":71,"m":-23.8,"p":0.025},{"i":71,"m":-23.0,"p":0.025},{"i":71,"m":-22.8,"p":0.05},{"i":71,"m":-22.4,"p":0.05},{"i":71,"m":-22.2,"p":0.09},{"i":71,"m":-22.0,"p":0.15},{"i":71,"m":-21.8,"p":0.24},{"i":71,"m":-21.6,"p":0.36},{"i":71,"m":-21.4,"p":0.5},{"i":71,"m":-21.2,"p":0.66},{"i":71,"m":-21.0,"p":0.82},{"i":71,"m":-20.8,"p":0.95},{"i":71,"m":-20.6,"p":1},{"i":71,"m":-20.4,"p":1},
{"i":72,"m":-22.2,"p":0.035},{"i":72,"m":-21.7,"p":0.035},{"i":72,"m":-21.5,"p":0.08},{"i":72,"m":-21.3,"p":0.16},{"i":72,"m":-21.1,"p":0.3},{"i":72,"m":-20.9,"p":0.48},{"i":72,"m":-20.7,"p":0.7},{"i":72,"m":-20.5,"p":0.9},{"i":72,"m":-20.4,"p":1},
{"i":73,"m":-23.2,"p":0.06},{"i":73,"m":-22.8,"p":0.06},{"i":73,"m":-22.6,"p":0.1},{"i":73,"m":-22.4,"p":0.1},{"i":73,"m":-22.2,"p":0.16},{"i":73,"m":-22.0,"p":0.24},{"i":73,"m":-21.8,"p":0.34},{"i":73,"m":-21.6,"p":0.46},{"i":73,"m":-21.4,"p":0.6},{"i":73,"m":-21.2,"p":0.74},{"i":73,"m":-21.0,"p":0.87},{"i":73,"m":-20.8,"p":0.97},{"i":73,"m":-20.4,"p":1},
{"i":74,"m":-22.9,"p":0.028},{"i":74,"m":-22.2,"p":0.028},{"i":74,"m":-22.0,"p":0.06},{"i":74,"m":-21.8,"p":0.11},{"i":74,"m":-21.6,"p":0.19},{"i":74,"m":-21.4,"p":0.31},{"i":74,"m":-21.2,"p":0.46},{"i":74,"m":-21.0,"p":0.63},{"i":74,"m":-20.8,"p":0.8},{"i":74,"m":-20.6,"p":0.94},{"i":74,"m":-20.4,"p":1},
{"i":75,"m":-23.6,"p":0.045},{"i":75,"m":-22.6,"p":0.045},{"i":75,"m":-22.4,"p":0.07},{"i":75,"m":-22.0,"p":0.07},{"i":75,"m":-21.8,"p":0.12},{"i":75,"m":-21.6,"p":0.2},{"i":75,"m":-21.4,"p":0.32},{"i":75,"m":-21.2,"p":0.48},{"i":75,"m":-21.0,"p":0.66},{"i":75,"m":-20.8,"p":0.84},{"i":75,"m":-20.6,"p":0.96},{"i":75,"m":-20.4,"p":1},
{"i":76,"m":-22.7,"p":0.018},{"i":76,"m":-22.1,"p":0.018},{"i":76,"m":-21.9,"p":0.035},{"i":76,"m":-21.7,"p":0.065},{"i":76,"m":-21.5,"p":0.12},{"i":76,"m":-21.3,"p":0.21},{"i":76,"m":-21.1,"p":0.35},{"i":76,"m":-20.9,"p":0.52},{"i":76,"m":-20.7,"p":0.72},{"i":76,"m":-20.5,"p":0.9},{"i":76,"m":-20.4,"p":1}
],
"avg":[{"n":"average PC LF","m":-24.0,"p":0.0054},{"n":"average PC LF","m":-23.8,"p":0.00695},{"n":"average PC LF","m":-23.6,"p":0.0104},{"n":"average PC LF","m":-23.4,"p":0.0126},{"n":"average PC LF","m":-23.2,"p":0.0158},{"n":"average PC LF","m":-23.0,"p":0.0205},{"n":"average PC LF","m":-22.8,"p":0.0252},{"n":"average PC LF","m":-22.6,"p":0.0327},{"n":"average PC LF","m":-22.4,"p":0.043},{"n":"average PC LF","m":-22.2,"p":0.0623},{"n":"average PC LF","m":-22.0,"p":0.086},{"n":"average PC LF","m":-21.8,"p":0.129},{"n":"average PC LF","m":-21.6,"p":0.194},{"n":"average PC LF","m":-21.4,"p":0.293},{"n":"average PC LF","m":-21.2,"p":0.454},{"n":"average PC LF","m":-21.0,"p":0.637},{"n":"average PC LF","m":-20.8,"p":0.773},{"n":"average PC LF","m":-20.6,"p":0.879},{"n":"average PC LF","m":-20.4,"p":1.0}],
"ono":[{"n":"Ono+18","m":-22.6,"p":0.0038},{"n":"Ono+18","m":-22.2,"p":0.012},{"n":"Ono+18","m":-22.0,"p":0.021},{"n":"Ono+18","m":-21.8,"p":0.0355},{"n":"Ono+18","m":-21.6,"p":0.06},{"n":"Ono+18","m":-21.4,"p":0.102},{"n":"Ono+18","m":-21.2,"p":0.17},{"n":"Ono+18","m":-21.0,"p":0.275},{"n":"Ono+18","m":-20.8,"p":0.427},{"n":"Ono+18","m":-20.6,"p":0.66},{"n":"Ono+18","m":-20.4,"p":1.0}]
},
"layer":[
{"data":{"name":"pc"},
 "transform":[{"lookup":"i","from":{"data":{"name":"od"},"key":"i","fields":["d"]}}],
 "mark":{"type":"line","strokeWidth":1.2,"clip":true},
 "encoding":{
  "x":{"field":"m","type":"quantitative","scale":{"domain":[-26,-20],"nice":false,"zero":false},
   "axis":{"values":[-26,-24,-22,-20],"format":"d","tickSize":-7,"tickWidth":1.4,"domainWidth":1.6,"labelFontSize":23,"labelPadding":12,"title":"M","titleFontStyle":"italic","titleFontSize":24,"titleX":167,"titleY":53,"titleAlign":"left","titleBaseline":"alphabetic"}},
  "y":{"field":"p","type":"quantitative","scale":{"type":"log","domain":[0.00617,1.57],"nice":false},
   "axis":{"values":[0.01,0.1,1],"labelExpr":"datum.value > 0.5 ? '10⁰' : datum.value > 0.05 ? '10⁻¹' : '10⁻²'","tickSize":-7,"tickWidth":1.4,"domainWidth":1.6,"labelFontSize":23,"labelPadding":15,"title":"Cumulative normalized Φ","titleFontSize":24,"titleX":-61,"titleY":171,"titleAlign":"center","titleBaseline":"middle","titleAngle":270}},
  "color":{"field":"d","type":"quantitative",
   "scale":{"domain":[4,4.67,5.34,6.01,6.68,7.35,8.02,8.69,9.36],"range":["#000080","#0000ff","#0080ff","#14ffe2","#7cff7a","#e2ff14","#ff9700","#ff2200","#800000"],"interpolate":"rgb"},
   "legend":{"orient":"none","legendX":483,"legendY":0,"direction":"vertical","type":"gradient","gradientLength":343,"gradientThickness":13,"gradientStrokeColor":"black","gradientStrokeWidth":1,"values":[4,5,6,7,8,9],"labelFontSize":21,"labelOffset":4,"labelBaseline":"middle","labelOverlap":false,"title":null,"padding":0}},
  "detail":{"field":"i","type":"nominal"}
 }},
{"data":{"name":"ono"},
 "mark":{"type":"line","strokeWidth":4.5,"color":"black","strokeDash":[15,6],"clip":true},
 "encoding":{
  "x":{"field":"m","type":"quantitative","scale":{"domain":[-26,-20],"nice":false,"zero":false},
   "axis":{"orient":"bottom","values":[-25.5,-25,-24.5,-23.5,-23,-22.5,-21.5,-21,-20.5],"tickSize":-4,"tickWidth":1,"labels":false,"domain":false,"title":"UV","titleFontSize":16,"titleX":186,"titleY":57,"titleAlign":"left","titleBaseline":"alphabetic"}},
  "y":{"field":"p","type":"quantitative","scale":{"type":"log","domain":[0.00617,1.57],"nice":false},
   "axis":{"orient":"left","values":[0.007,0.008,0.009,0.02,0.03,0.04,0.05,0.06,0.07,0.08,0.09,0.2,0.3,0.4,0.5,0.6,0.7,0.8,0.9],"tickSize":-4,"tickWidth":1,"labels":false,"domain":false,"title":null}}
 }},
{"data":{"name":"avg"},
 "mark":{"type":"line","strokeWidth":1.3,"color":"black","clip":true},
 "encoding":{
  "x":{"field":"m","type":"quantitative","scale":{"domain":[-26,-20],"nice":false,"zero":false},
   "axis":{"orient":"bottom","values":[],"ticks":false,"labels":false,"domain":false,"title":"[mag]","titleFontSize":24,"titleX":225,"titleY":53,"titleAlign":"left","titleBaseline":"alphabetic"}},
  "y":{"field":"p","type":"quantitative","scale":{"type":"log","domain":[0.00617,1.57],"nice":false},
   "axis":{"orient":"right","values":[],"ticks":false,"labels":false,"domain":false,"title":"overdensity [σ]","titleFontSize":23,"titleAngle":270,"titleX":83,"titleY":154,"titleAlign":"center","titleBaseline":"middle"}}
 }},
{"data":{"name":"avg"},
 "mark":{"type":"point","filled":true,"fill":"white","stroke":"black","strokeWidth":1.3,"size":130,"opacity":1,"clip":true},
 "encoding":{
  "x":{"field":"m","type":"quantitative","scale":{"domain":[-26,-20],"nice":false,"zero":false},"axis":null},
  "y":{"field":"p","type":"quantitative","scale":{"type":"log","domain":[0.00617,1.57],"nice":false},"axis":null}
 }},
{"data":{"name":"ono"},
 "mark":{"type":"point","filled":true,"stroke":"black","strokeWidth":1.3,"opacity":0,"clip":true},
 "encoding":{
  "x":{"field":"m","type":"quantitative","scale":{"domain":[-26,-20],"nice":false,"zero":false},"axis":null},
  "y":{"field":"p","type":"quantitative","scale":{"type":"log","domain":[0.00617,1.57],"nice":false},"axis":null},
  "shape":{"field":"n","type":"nominal","scale":{"domain":["average PC LF","Ono+18"],"range":["M-1,0H0.5M2,0H3.5M2,0A0.75,0.75 0 1,1 0.5,0A0.75,0.75 0 1,1 2,0","M-1,-0.25H1.875V0.25H-1Z M3,-0.25H3.5V0.25H3Z"]},
   "legend":{"orient":"none","legendX":10,"legendY":9,"title":null,"labelFontSize":18,"labelColor":"#222222","symbolSize":256,"symbolStrokeColor":"black","symbolStrokeWidth":1.3,"symbolOpacity":1,"labelOffset":33,"rowPadding":5,"padding":7,"cornerRadius":4,"strokeColor":"#cccccc","fillColor":"white"}},
  "fill":{"field":"n","type":"nominal","scale":{"domain":["average PC LF","Ono+18"],"range":["white","black"]},
   "legend":{"orient":"none","legendX":10,"legendY":9,"title":null,"labelFontSize":18,"labelColor":"#222222","symbolSize":256,"symbolStrokeColor":"black","symbolStrokeWidth":1.3,"symbolOpacity":1,"labelOffset":33,"rowPadding":5,"padding":7,"cornerRadius":4,"strokeColor":"#cccccc","fillColor":"white"}},
  "stroke":{"field":"n","type":"nominal","scale":{"domain":["average PC LF","Ono+18"],"range":["black","black"]},
   "legend":{"orient":"none","legendX":10,"legendY":9,"title":null,"labelFontSize":18,"labelColor":"#222222","symbolSize":256,"symbolStrokeColor":"black","symbolStrokeWidth":1.3,"symbolOpacity":1,"labelOffset":33,"rowPadding":5,"padding":7,"cornerRadius":4,"strokeColor":"#cccccc","fillColor":"white"}}
 }}
],
"resolve":{"axis":{"x":"independent","y":"independent"}}
}
